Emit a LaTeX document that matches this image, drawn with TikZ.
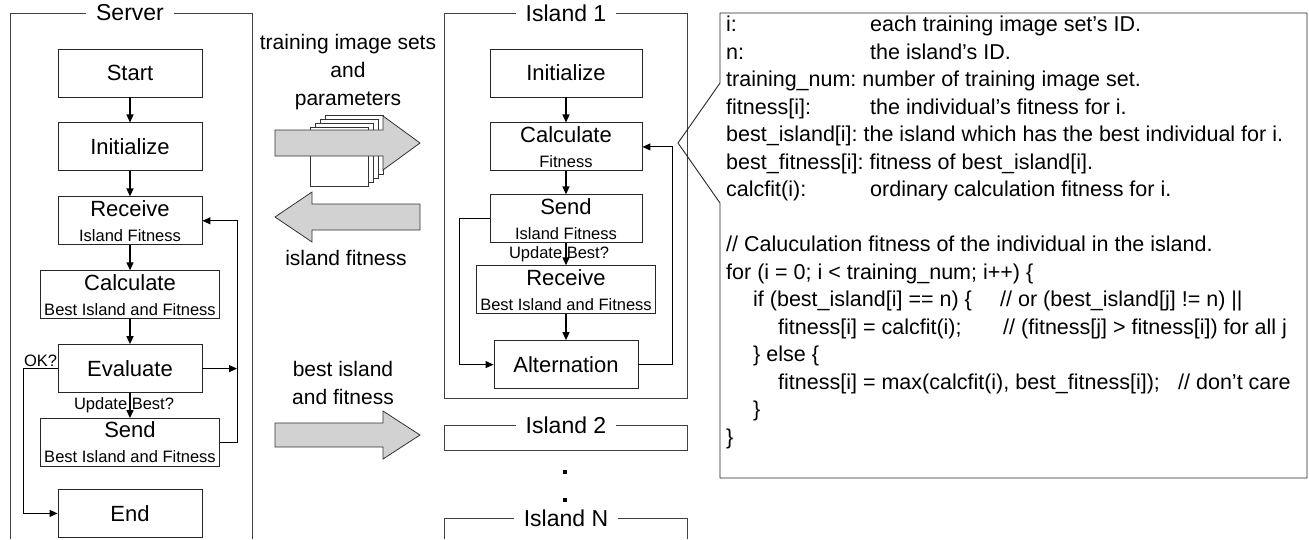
\documentclass[tikz,border=0pt]{standalone}
\usepackage{fontspec}
\setmainfont{Liberation Sans}
\usetikzlibrary{arrows.meta, positioning}

\newcommand\bigfont{\fontsize{22}{25}\selectfont}
\newcommand\titlefont{\fontsize{23}{25}\selectfont}
\newcommand\subfont{\fontsize{16.5}{18}\selectfont}
\newcommand\midfont{\fontsize{21}{28}\selectfont}
\newcommand\codefont{\fontsize{21.5}{27.5}\selectfont}

% description column of the variable list
\newlength\codetab
\setlength\codetab{144pt}
\newcommand\codeitem[2]{\makebox[\codetab][l]{#1}#2}

\begin{document}
\begin{tikzpicture}[
    x=1pt, y=-1pt,
    node distance=25pt,
    box/.style={rectangle, draw=black!85, line width=0.9pt,
                minimum width=144pt, minimum height=48pt, inner sep=2pt,
                align=center, font=\bigfont},
    widebox/.style={box, minimum width=179pt},
    islbox/.style={box, minimum width=152pt},
    frame/.style={draw=black!75, line width=0.9pt},
    frametitle/.style={fill=white, inner xsep=10pt, inner ysep=1pt, font=\titlefont},
    conn/.style={line width=1.4pt, -{Triangle[length=8pt,width=7pt]}},
    fb/.style={line width=1pt, -{Triangle[length=8pt,width=7pt]}},
    fat/.style={draw=black!80, line width=0.8pt, fill=gray!35},
    page/.style={draw=black!80, line width=0.8pt, fill=white},
    midtext/.style={align=center, font=\midfont},
    asklabel/.style={font=\subfont, inner sep=1pt},
    codetext/.style={align=left, font=\codefont, inner sep=0pt}
  ]
  \useasboundingbox (0,0) rectangle (1309,539);

  % server side
  \draw[frame] (10,539) |- (252,13) -- (252,539);
  \node[frametitle] (servertitle) at (130,13) {Server};
  \node[box] (startS) at (130,73) {Start};
  \node[box, below=of startS] (initS) {Initialize};
  \node[box, below=of initS] (recvS) {Receive\\{\subfont Island Fitness}};
  \node[widebox, below=of recvS] (calcS) {Calculate\\{\subfont Best Island and Fitness}};
  \node[box, below=of calcS] (evalS) {Evaluate};
  \node[widebox, below=of evalS] (sendS) {Send\\{\subfont Best Island and Fitness}};
  \node[box, below=22pt of sendS] (endS) {End};
  \coordinate (backS) at (237,0);

  \draw[conn] (startS) -- (initS);
  \draw[conn] (initS) -- (recvS);
  \draw[conn] (recvS) -- (calcS);
  \draw[conn] (calcS) -- (evalS);
  \draw[conn] (evalS) -- node[asklabel, xshift=-6pt] {Update Best?} (sendS);
  \draw[fb] (sendS.east) -| (backS |- recvS.east) -- (recvS.east);
  \draw[fb] (evalS.east) -- (evalS.east -| backS);
  \draw[fb] (evalS.west) -- node[asklabel, above] {OK?} ++(-34,0) |- (endS.west);

  % island 1
  \draw[frame] (444,13) rectangle (687,398);
  \node[frametitle] (islandtitle) at (566,13) {Island 1};
  \node[islbox] (initI) at (566,73) {Initialize};
  \node[islbox, below=of initI] (calcI) {Calculate\\{\subfont Fitness}};
  \node[islbox, below=23pt of calcI] (sendI) {Send\\{\subfont Island Fitness}};
  \node[widebox, below=22pt of sendI] (recvI) {Receive\\{\subfont Best Island and Fitness}};
  \node[box, below=26pt of recvI] (altI) {Alternation};
  \coordinate (backI) at (672,0);
  \coordinate (skipI) at (459,0);

  \draw[conn] (initI) -- (calcI);
  \draw[conn] (calcI) -- (sendI);
  \draw[conn] (sendI) -- node[asklabel, xshift=-7pt] {Update Best?} (recvI);
  \draw[conn] (recvI) -- (altI);
  \draw[fb] (altI.east) -| (backI |- calcI.east) -- (calcI.east);
  \draw[fb] (sendI.west) -| (skipI |- altI.west) -- (altI.west);

  % the other islands
  \draw[frame] (444,425) rectangle (687,450);
  \node[frametitle] (island2title) at (566,425) {Island 2};
  \fill (563,470) rectangle ++(4,4);
  \fill (563,498) rectangle ++(4,4);
  \draw[frame] (444,539) |- (687,518) -- (687,539);
  \node[frametitle] (islandNtitle) at (566,518) {Island N};

  % transfers between server and islands
  \node[midtext] (paramtext) at (348,72) {training image sets\\and\\parameters};
  \foreach \k in {3,2,1,0}
    \draw[page] (310+5*\k,127-4*\k) rectangle ++(58,59);
  \draw[fat] (275,130) -- (383,130) -- (383,116) -- (420,143) -- (383,170)
    -- (383,156) -- (275,156) -- cycle;
  \draw[fat] (420,204) -- (312,204) -- (312,192) -- (275,217) -- (312,242)
    -- (312,230) -- (420,230) -- cycle;
  \node[midtext] (fittext) at (346,258) {island fitness};
  \node[midtext] (besttext) at (343,383) {best island\\and fitness};
  \draw[fat] (275,423) -- (383,423) -- (383,411) -- (420,435) -- (383,459)
    -- (383,447) -- (275,447) -- cycle;

  % fitness calculation on an island
  \draw[draw=black!85, line width=0.9pt] (720,13) -- (1307,13) -- (1307,478)
    -- (720,478) -- (720,203) -- (678,143) -- (720,83) -- cycle;
  \node[codetext, anchor=north west] (code) at (726,16) {%
    \codeitem{i:}{each training image set's ID.}\\
    \codeitem{n:}{the island's ID.}\\
    training\_num:\ number of training image set.\\
    \codeitem{fitness[i]:}{the individual's fitness for i.}\\
    best\_island[i]:\ the island which has the best individual for i.\\
    best\_fitness[i]:\ fitness of best\_island[i].\\
    \codeitem{calcfit(i):}{ordinary calculation fitness for i.}\\
    \mbox{}\\
    // Caluculation fitness of the individual in the island.\\
    for (i = 0; i < training\_num; i++) \{\\
    \hspace*{27pt}\makebox[247pt][l]{if (best\_island[i] == n) \{}// or (best\_island[j] != n) ||\\
    \hspace*{52pt}\makebox[225pt][l]{fitness[i] = calcfit(i);}// (fitness[j] > fitness[i]) for all j\\
    \hspace*{27pt}\} else \{\\
    \hspace*{52pt}\makebox[400pt][l]{fitness[i] = max(calcfit(i), best\_fitness[i]);}// don't care\\
    \hspace*{27pt}\}\\
    \}};
\end{tikzpicture}
\end{document}
